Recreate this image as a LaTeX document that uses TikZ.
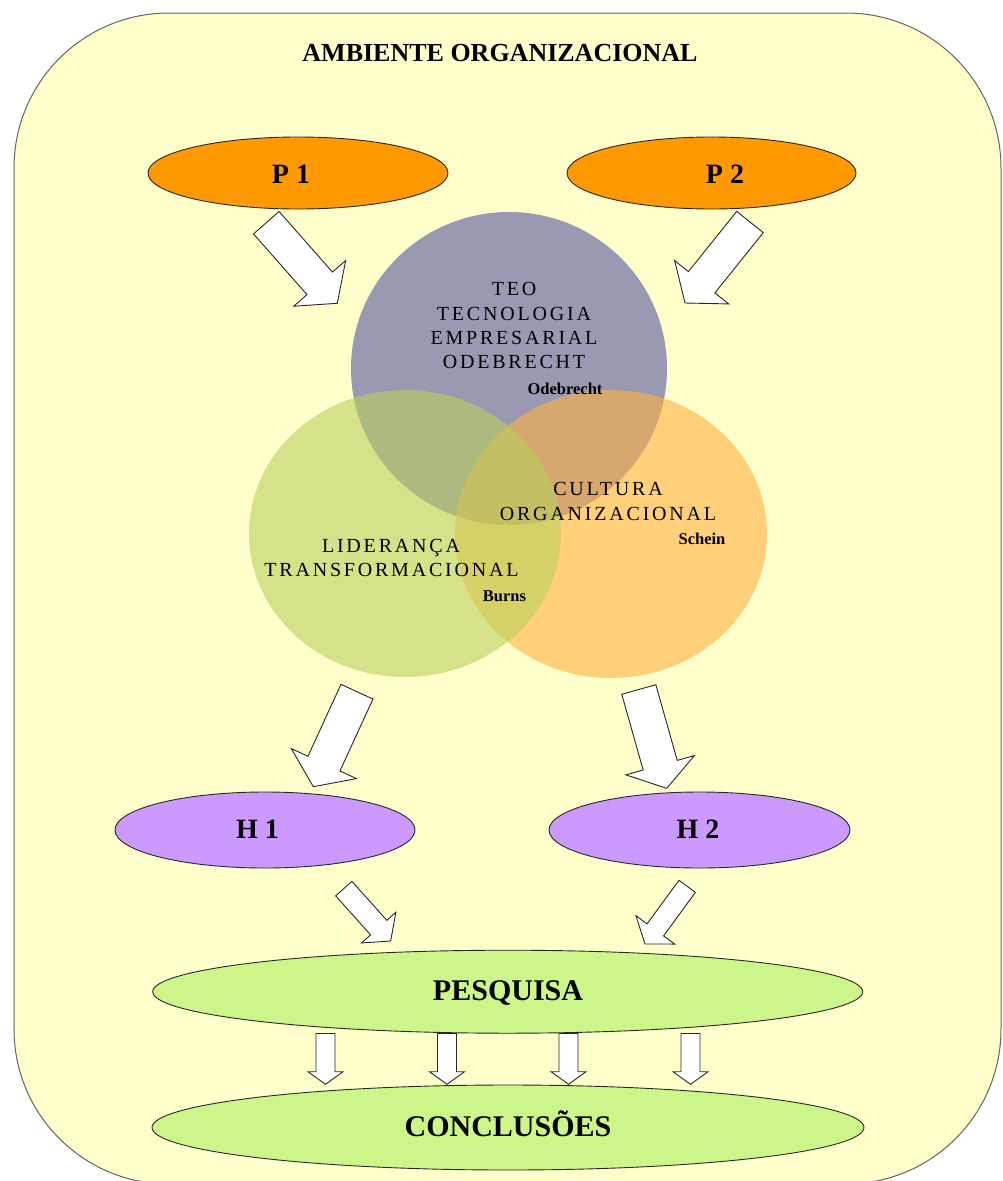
\documentclass[tikz,border=0pt]{standalone}
\usepackage{fontspec}
\setmainfont{Liberation Serif}
\newfontfamily\circfont[LetterSpace=14]{Liberation Serif}
\usetikzlibrary{calc,shapes.geometric}
\definecolor{bgyellow}{RGB}{255,255,204}
\definecolor{framegray}{RGB}{100,100,100}
\definecolor{porange}{RGB}{255,153,0}
\definecolor{hviolet}{RGB}{204,153,255}
\definecolor{rgreen}{RGB}{204,246,138}
\definecolor{teoc}{RGB}{85,85,162}
\definecolor{culc}{RGB}{255,177,67}
\definecolor{lidc}{RGB}{187,208,94}
\definecolor{edge}{RGB}{40,40,40}
\newcommand\blockarrow[5]{%
  \draw[barrow] ($(#1)!#3!90:(#2)$) -- ($(#2)!#5!(#1)!#3!-90:(#1)$) -- ($(#2)!#5!(#1)!#4!-90:(#1)$) -- (#2) -- ($(#2)!#5!(#1)!#4!90:(#1)$) -- ($(#2)!#5!(#1)!#3!90:(#1)$) -- ($(#1)!#3!-90:(#2)$) -- cycle;}
\begin{document}
\begin{tikzpicture}[x=1pt,y=-1pt,
  frame/.style={draw=framegray,line width=1pt,fill=bgyellow,rounded corners=155pt},
  oval/.style={ellipse,draw=edge,line width=0.9pt,inner sep=0pt,outer sep=0pt},
  venn/.style={ellipse,inner sep=0pt,outer sep=0pt,fill opacity=0.6},
  barrow/.style={draw=edge,fill=white,line width=0.9pt,line join=miter},
  txt/.style={inner sep=0pt,anchor=base},
  bigtxt/.style={txt,font=\fontsize{28}{32}\selectfont\bfseries},
  boxtxt/.style={txt,font=\fontsize{30}{34}\selectfont\bfseries},
  ctxt/.style={txt,font=\fontsize{20}{24}\selectfont\circfont},
  stxt/.style={txt,font=\fontsize{16.5}{20}\selectfont\bfseries}]
\useasboundingbox (0,0) rectangle (1003,1181);
\clip (0,0) rectangle (1003,1181);
\draw[frame] (14,13) rectangle (1001,1184);
\node[txt,font=\fontsize{26}{30}\selectfont\bfseries] (title) at (500,61) {AMBIENTE ORGANIZACIONAL};
% top ellipses
\node[oval,fill=porange,minimum width=300pt,minimum height=72pt] (p1) at (298,173) {};
\node[oval,fill=porange,minimum width=289pt,minimum height=72pt] (p2) at (711.5,173) {};
\node[bigtxt] (p1t) at (291,183) {P 1};
\node[bigtxt] (p2t) at (725,183) {P 2};
% venn circles
\node[venn,fill=teoc,minimum width=316pt,minimum height=313pt] (teo) at (509,368.5) {};
\node[venn,fill=culc,minimum width=312pt,minimum height=288pt] (cul) at (611,534) {};
\node[venn,fill=lidc,minimum width=312pt,minimum height=287pt] (lid) at (405,533.5) {};
% circle texts
\node[ctxt] (t1) at (514,295.6) {TEO};
\node[ctxt] (t2) at (514,320.6) {TECNOLOGIA};
\node[ctxt] (t3) at (514,344.6) {EMPRESARIAL};
\node[ctxt] (t4) at (514,368.6) {ODEBRECHT};
\node[stxt] (t5) at (565,394) {Odebrecht};
\node[ctxt] (l1) at (391,552) {LIDERANÇA};
\node[ctxt] (l2) at (391.5,576) {TRANSFORMACIONAL};
\node[stxt] (l3) at (504.5,601.5) {Burns};
\node[ctxt] (c1) at (608,495.5) {CULTURA};
\node[ctxt] (c2) at (608,520) {ORGANIZACIONAL};
\node[stxt] (c3) at (702,544) {Schein};
% H ellipses
\node[oval,fill=hviolet,minimum width=300pt,minimum height=76pt] (h1) at (265,830) {};
\node[oval,fill=hviolet,minimum width=301pt,minimum height=76pt] (h2) at (699.5,830) {};
\node[bigtxt] (h1t) at (257.6,838) {H 1};
\node[bigtxt] (h2t) at (698,838) {H 2};
% research / conclusions
\node[oval,fill=rgreen,minimum width=710pt,minimum height=83pt] (pesq) at (507.7,991.7) {};
\node[boxtxt] (pesqt) at (508,1000) {PESQUISA};
\node[oval,fill=rgreen,minimum width=712pt,minimum height=85pt] (conc) at (508,1127.5) {};
\node[boxtxt] (conct) at (508,1136.7) {CONCLUSÕES};
% arrows
\coordinate (a1s) at (266.3,222.7); \coordinate (a1e) at (337.3,303.3);
\coordinate (a2s) at (750,222);     \coordinate (a2e) at (685,303);
\coordinate (a3s) at (357,691.7);   \coordinate (a3e) at (313.3,786.7);
\coordinate (a4s) at (638.8,689.5); \coordinate (a4e) at (666.7,788.3);
\coordinate (a5s) at (343.8,888.6); \coordinate (a5e) at (390.7,941);
\coordinate (a6s) at (687.2,886.3); \coordinate (a6e) at (645,944);
\blockarrow{a1s}{a1e}{17pt}{34.6pt}{26.6pt}
\blockarrow{a2s}{a2e}{17pt}{34.6pt}{26.6pt}
\blockarrow{a3s}{a3e}{17.6pt}{35.8pt}{25.4pt}
\blockarrow{a4s}{a4e}{17.7pt}{35.6pt}{24pt}
\blockarrow{a5s}{a5e}{10.9pt}{23pt}{18pt}
\blockarrow{a6s}{a6e}{10.2pt}{24pt}{17.5pt}
\foreach \i/\x in {1/325.5,2/447,3/568.5,4/690.5}{
  \coordinate (d\i s) at (\x,1033.5);
  \coordinate (d\i e) at (\x,1084.3);
  \blockarrow{d\i s}{d\i e}{9.5pt}{17.5pt}{12.6pt}
}
\end{tikzpicture}
\end{document}
